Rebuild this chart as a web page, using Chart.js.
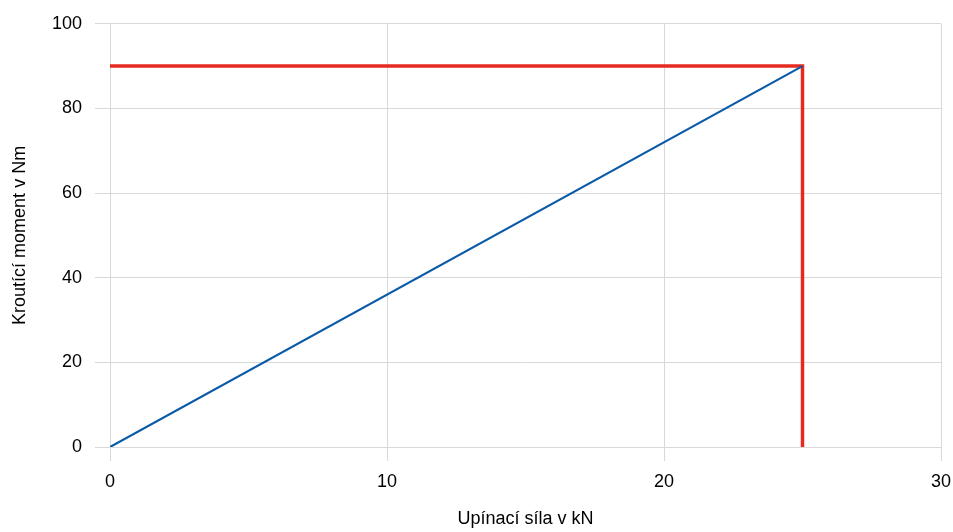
<!DOCTYPE html>
<html>
<head>
<meta charset="utf-8">
<script src="https://cdn.jsdelivr.net/npm/chart.js@4"></script>
<style>
  html, body { margin: 0; padding: 0; background: #fff; }
  #wrap { width: 953px; height: 532px; }
</style>
</head>
<body>
<div id="wrap"><canvas id="myChart"></canvas></div>
<script>
// chart data
const forceKN = [0, 25];
const momentNm = [0, 90];
const limitX = [0, 25, 25];
const limitY = [90, 90, 0];
const xTicks = [0, 10, 20, 30];
const yTicks = [0, 20, 40, 60, 80, 100];

const toPoints = (xs, ys) => xs.map((x, i) => ({ x: x, y: ys[i] }));

const fontFamily = '"Liberation Sans Narrow", "Arial Narrow", "Liberation Sans", Arial, sans-serif';
Chart.defaults.font.family = fontFamily;
Chart.defaults.color = '#000';

const ctx = document.getElementById('myChart').getContext('2d');

const myChart = new Chart(ctx, {
    type: 'scatter',
    data: {
        datasets: [{
            label: 'Mez',
            data: toPoints(limitX, limitY),
            showLine: true,
            borderColor: '#e52b1f',
            borderWidth: 3.5,
            pointRadius: 0,
            borderCapStyle: 'butt',
            borderJoinStyle: 'miter',
            order: 2
        }, {
            label: 'Moment',
            data: toPoints(forceKN, momentNm),
            showLine: true,
            borderColor: '#0a5aa8',
            borderWidth: 2.2,
            pointRadius: 0,
            order: 1
        }]
    },
    options: {
        responsive: true,
        maintainAspectRatio: false,
        animation: false,
        layout: { padding: { top: 12, right: 0, bottom: 0, left: 0 } },
        plugins: {
            legend: { display: false },
            tooltip: { enabled: false }
        },
        scales: {
            x: {
                type: 'linear',
                min: 0,
                max: 30,
                afterBuildTicks: (axis) => { axis.ticks = xTicks.map(v => ({ value: v })); },
                afterFit: (axis) => { axis.height = 85; axis.paddingRight = 12; },
                grid: { color: '#d9d9d9', lineWidth: 1, tickLength: 14 },
                border: { display: false },
                ticks: { font: { size: 18 }, padding: 10, maxRotation: 0 },
                title: { display: true, text: 'Upínací síla v kN', font: { size: 18 }, padding: { top: 0, bottom: 2 } }
            },
            y: {
                type: 'linear',
                min: 0,
                max: 100,
                afterBuildTicks: (axis) => { axis.ticks = yTicks.map(v => ({ value: v })); },
                afterFit: (axis) => { axis.width = 110; },
                grid: { color: '#d9d9d9', lineWidth: 1, tickLength: 15 },
                border: { display: false },
                ticks: { font: { size: 18 }, padding: 13 },
                title: { display: true, text: 'Kroutící moment v Nm', font: { size: 18 }, padding: { top: 9, bottom: 9 } }
            }
        }
    }
});
</script>
</body>
</html>
